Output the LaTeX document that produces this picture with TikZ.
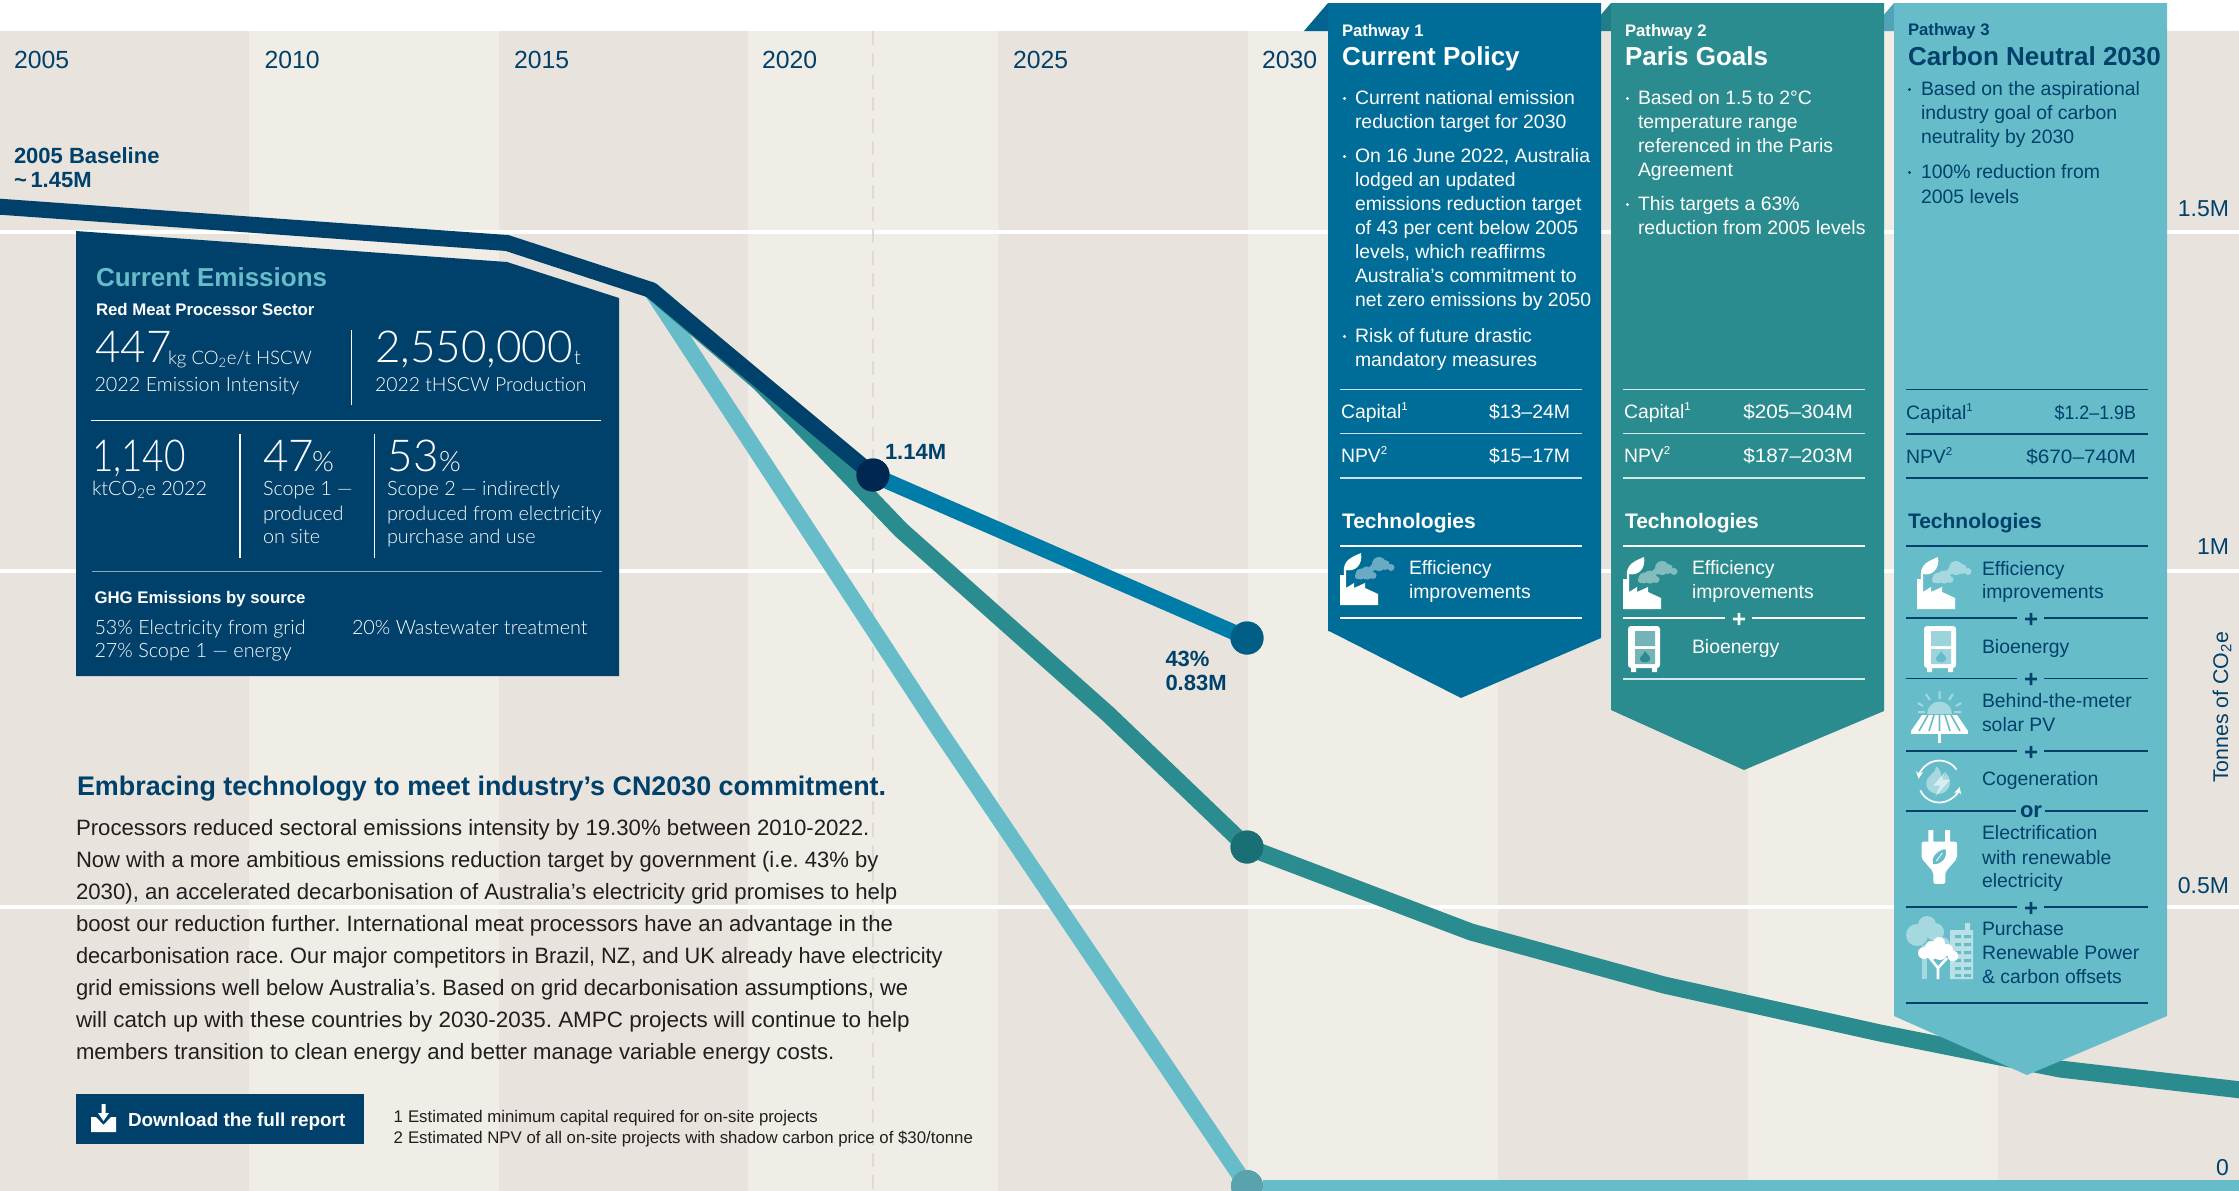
\documentclass[tikz,border=0pt]{standalone}
\usepackage{fontspec}
\setmainfont{Liberation Sans}
\newfontfamily\lightf{Lato Light}
\usetikzlibrary{arrows.meta}
\definecolor{banddark}{HTML}{E9E3DD}
\definecolor{bandlight}{HTML}{F0ECE6}
\definecolor{navy}{HTML}{00416B}
\definecolor{pone}{HTML}{006D98}
\definecolor{lineblue}{HTML}{007CA8}
\definecolor{ptwo}{HTML}{2B8C8F}
\definecolor{pthree}{HTML}{67BCCA}
\definecolor{inkbody}{HTML}{1F1F1F}
\definecolor{dotnowc}{HTML}{00274F}
\definecolor{dotpolc}{HTML}{005E86}
\definecolor{dotparc}{HTML}{1A6F75}
\definecolor{dotzerc}{HTML}{5AA3AE}
\newcommand\FS[1]{\fontsize{#1}{#1}\selectfont}
\newcommand\TX[4][]{\node[txt,#1] at (#2,#3) {#4};}
\newcommand\BL[3]{\fill[#3] (#1+1.5,#2-6.5) circle[radius=1.7pt];}
\newcommand\SUP[1]{\raisebox{.42em}{\FS{11.5}#1}}
\frenchspacing
\tikzset{
  x=1pt,y=-1pt,
  txt/.style={anchor=base west,inner sep=0pt,outer sep=0pt},
  txr/.style={anchor=base east,inner sep=0pt,outer sep=0pt},
  yr/.style={txr,text=navy,font=\FS{23}},
  yl/.style={text=navy,font=\FS{24.8}},
  bold15/.style={font=\bfseries\FS{16.7}},
  title/.style={font=\bfseries\FS{26}},
  body/.style={font=\FS{19.4},yshift=.5pt},
  techhead/.style={font=\bfseries\FS{21}},
  lt20/.style={font=\lightf\FS{19.8}},
  big/.style={font=\lightf\FS{44}},
  para/.style={text=inkbody,font=\FS{22.2}},
  foot/.style={text=inkbody,font=\FS{16.8}},
  trace/.style={line width=17pt,line join=miter},
  rule/.style={line width=1.8pt},
  glass/.style={fill=white,fill opacity=.42,draw=none},
  plusmark/.style={inner sep=0pt,font=\bfseries\FS{24}},
  pics/factory/.style={code={
    \fill[white] (0,22)--(6,22)--(6,35)--(14,30)--(14,35)--(25,30)--(25,35)--(38,41)--(38,52)--(0,52)--cycle;
    \fill[white] (4,21) .. controls (2,7) and (12,4) .. (21,0) .. controls (23,12) and (15,19) .. (6,17) -- (6,22) -- (4,22) -- cycle;
    \fill[glass] (21,21) circle[radius=5.5pt] (27,20) circle[radius=6.5pt] (33,22.5) circle[radius=3.5pt] (18,23) circle[radius=3.2pt]
      (39,11) circle[radius=7pt] (45,12) circle[radius=5pt] (51,14.5) circle[radius=3.5pt] (33,14.5) circle[radius=3.3pt];
  }},
  pics/boiler/.style={code={
    \fill[white,rounded corners=3pt] (0,1) rectangle (32,43);
    \fill[white] (3,42) rectangle (8,47) (24,42) rectangle (29,47);
    \fill[#1,opacity=.65] (7,6) rectangle (27,21) (7,24) rectangle (27,39);
    \fill[#1] (17,26) .. controls (19,30) and (23,31) .. (22,35) .. controls (21,38) and (13,38) .. (12,35) .. controls (11,32) and (15,31) .. (17,26) -- cycle;
  }},
}
\begin{document}
\begin{tikzpicture}
\clip (0,0) rectangle (2239,1191);
\fill[white] (0,0) rectangle (2239,1191);
% bands
\foreach \a/\b/\c in {0/249/banddark,249/499/bandlight,499/748/banddark,748/998/bandlight,998/1248/banddark,1248/1498/bandlight,1498/1748/banddark,1748/1998/bandlight,1998/2239/banddark}
  \fill[\c] (\a,31) rectangle (\b,1191);
% grid
\foreach \g in {232,571,907} \fill[white] (0,\g-2) rectangle (2239,\g+2);
\draw[banddark!96!black,line width=1.3pt,dash pattern=on 14pt off 8pt] (873,31) -- (873,1191);
% year labels
\TX[yl]{14}{68}{2005}
\TX[yl]{264.5}{68}{2010}
\TX[yl]{514}{68}{2015}
\TX[yl]{762}{68}{2020}
\TX[yl]{1013}{68}{2025}
\TX[yl]{1262}{68}{2030}
% value labels
\TX[yr]{2229}{216}{1.5M}
\TX[yr]{2229}{554}{1M}
\TX[yr]{2229}{893}{0.5M}
\TX[yr]{2229}{1175}{0}
\node[anchor=base west,inner sep=0pt,rotate=90,text=navy,font=\FS{21.3}] at (2228,783) {Tonnes of CO\textsubscript{2}e};
% emissions panel
\fill[navy] (76,231)--(507,262)--(619,298)--(619,676)--(76,676)--cycle;
% data traces
\coordinate (base) at (-10,206);
\coordinate (k1) at (507,243);
\coordinate (k2) at (651,290);
\coordinate (cn1) at (939,730);
\node[circle,fill=dotzerc,minimum size=32pt,inner sep=0pt] (dotzero) at (1247,1186) {};
\draw[pthree,trace,line width=16pt] (k2)--(cn1)--(1247,1186);
\node[circle,fill=dotzerc,minimum size=32pt,inner sep=0pt] at (1247,1186) {};
\draw[pthree,line width=12pt] (dotzero.east)--(2250,1186);
\coordinate (t1) at (760,383);
\coordinate (t2) at (901,530);
\coordinate (t3) at (1108,714);
\node[circle,fill=dotparc,minimum size=33pt,inner sep=0pt] (dotparis) at (1247,847) {};
\draw[ptwo,trace] (k2)--(t1)--(t2)--(t3)--(dotparis.center)--(1471,932)--(1664,985)--(1880,1033)--(2060,1069)--(2250,1091);
\node[circle,fill=dotparc,minimum size=33pt,inner sep=0pt] at (1247,847) {};
\node[circle,fill=dotpolc,minimum size=33pt,inner sep=0pt] (dotpolicy) at (1247,638) {};
\node[circle,fill=dotnowc,minimum size=33pt,inner sep=0pt] (dotnow) at (873,475) {};
\draw[lineblue,trace,line width=15.5pt] (dotnow.center)--(dotpolicy.center);
\draw[navy,trace,line width=16pt] (base)--(k1)--(k2)--(dotnow.center);
\node[circle,fill=dotpolc,minimum size=33pt,inner sep=0pt] at (1247,638) {};
\node[circle,fill=dotnowc,minimum size=33pt,inner sep=0pt] at (873,475) {};
% chart labels
\begin{scope}[every node/.append style={text=navy,font=\bfseries\FS{22}}]
\TX{14}{163}{2005 Baseline}
\TX{14}{187.5}{\textasciitilde\,1.45M}
\TX{885}{459}{1.14M}
\TX{1165.5}{666}{43\%}
\TX{1165.5}{690}{0.83M}
\end{scope}
% panel content
\TX[text=pthree,font=\bfseries\FS{26}]{96}{286}{Current Emissions}
\TX[text=white,font=\bfseries\FS{16.8}]{96}{315}{Red Meat Processor Sector}
\begin{scope}[every node/.append style={text=white}]
\TX[big]{95}{362.5}{447}
\TX[font=\lightf\FS{18.7}]{168}{364}{kg CO\textsubscript{2}e/t HSCW}
\TX[lt20]{94.5}{391}{2022 Emission Intensity}
\TX[big]{375}{362.5}{2,550,000}
\TX[lt20]{574}{364}{t}
\TX[font=\lightf\FS{19.4}]{375}{391}{2022 tHSCW Production}
\TX[big]{92}{471}{\scalebox{.84}[1]{1,140}}
\TX[lt20]{92}{495.5}{ktCO\textsubscript{2}e 2022}
\TX[big]{263}{471}{47}
\TX[font=\lightf\FS{28}]{312}{471}{\%}
\TX[lt20]{263}{495.5}{Scope 1 —}
\TX[lt20]{263}{520}{produced}
\TX[lt20]{263}{543.5}{on site}
\TX[big]{387.5}{471}{53}
\TX[font=\lightf\FS{28}]{439}{471}{\%}
\TX[lt20]{387}{495.5}{Scope 2 — indirectly}
\TX[lt20]{387}{520}{produced from electricity}
\TX[lt20]{387}{543.5}{purchase and use}
\TX[font=\bfseries\FS{16.8}]{94.5}{603}{GHG Emissions by source}
\TX[lt20]{94.5}{634}{53\% Electricity from grid}
\TX[lt20]{94.5}{657.6}{27\% Scope 1 — energy}
\TX[lt20]{352}{634}{20\% Wastewater treatment}
\end{scope}
\draw[white,line width=1.3pt] (351.6,330)--(351.6,405) (240,434)--(240,558) (374.6,434)--(374.6,558) (91,420.5)--(601,420.5);
\draw[white!55!navy,line width=1.6pt] (92,571.5)--(602,571.5);
% commentary
\TX[text=navy,font=\bfseries\FS{26.9}]{77}{795}{Embracing technology to meet industry’s CN2030 commitment.}
\TX[para]{76}{835}{Processors reduced sectoral emissions intensity by 19.30\% between 2010-2022.}
\TX[para]{76}{867}{\scalebox{.993}[1]{Now with a more ambitious emissions reduction target by government (i.e. 43\% by}}
\TX[para]{76}{899}{2030), an accelerated decarbonisation of Australia’s electricity grid promises to help}
\TX[para]{76}{931}{\scalebox{.997}[1]{boost our reduction further. International meat processors have an advantage in the}}
\TX[para]{76}{963}{\scalebox{.981}[1]{decarbonisation race. Our major competitors in Brazil, NZ, and UK already have electricity}}
\TX[para]{76}{995}{\scalebox{.988}[1]{grid emissions well below Australia’s. Based on grid decarbonisation assumptions, we}}
\TX[para]{76}{1027}{\scalebox{1.01}[1]{will catch up with these countries by 2030-2035. AMPC projects will continue to help}}
\TX[para]{76}{1059}{\scalebox{.996}[1]{members transition to clean energy and better manage variable energy costs.}}
% button
\fill[navy] (76,1094) rectangle (364,1144);
\fill[white] (91,1117)--(96,1117)--(103.5,1125)--(111,1117)--(116,1117)--(116,1132)--(91,1132)--cycle;
\fill[white] (101.5,1104)--(105.5,1104)--(105.5,1113)--(109,1113)--(103.5,1121)--(98,1113)--(101.5,1113)--cycle;
\TX[text=white,font=\bfseries\FS{18.9}]{128}{1126}{Download the full report}
\TX[foot]{393.5}{1122}{1}
\TX[foot]{408}{1122}{Estimated minimum capital required for on-site projects}
\TX[foot]{393.5}{1143}{2}
\TX[foot]{408}{1143}{Estimated NPV of all on-site projects with shadow carbon price of \$30/tonne}
% folds and pathway shapes
\fill[pthree!80!navy] (1870,31)--(1894,3)--(1894,31)--cycle;
\fill[pthree] (1894,3)--(2167,3)--(2167,1016)--(2027,1075)--(1894,1016)--cycle;
\fill[ptwo!80!navy] (1587,31)--(1611,3)--(1611,31)--cycle;
\fill[ptwo] (1611,3)--(1884,3)--(1884,711)--(1744,770)--(1611,710)--cycle;
\fill[pone!80!navy] (1304,31)--(1328,3)--(1328,31)--cycle;
\fill[pone] (1328,3)--(1601,3)--(1601,638)--(1461,698)--(1329,631)--(1328,631)--cycle;
% pathway 1
\begin{scope}[every node/.append style={text=white}]
\TX[bold15]{1342}{36}{Pathway 1}
\TX[title]{1342}{65.5}{Current Policy}
\BL{1343}{105}{white}
\TX[body]{1355}{105}{Current national emission}
\TX[body]{1355}{129}{reduction target for 2030}
\BL{1343}{163}{white}
\TX[body]{1355}{163}{On 16 June 2022, Australia}
\TX[body]{1355}{187}{lodged an updated}
\TX[body]{1355}{211}{emissions reduction target}
\TX[body]{1355}{235}{of 43 per cent below 2005}
\TX[body]{1355}{259}{levels, which reaffirms}
\TX[body]{1355}{283}{Australia’s commitment to}
\TX[body]{1355}{307}{net zero emissions by 2050}
\BL{1343}{343}{white}
\TX[body]{1355}{343}{Risk of future drastic}
\TX[body]{1355}{367}{mandatory measures}
\TX[body]{1341}{419}{Capital\SUP{1}}
\node[txr,body] at (1570,419) {\$13–24M};
\TX[body]{1341}{463}{NPV\SUP{2}}
\node[txr,body] at (1570,463) {\$15–17M};
\TX[techhead]{1342}{528}{Technologies}
\TX[body]{1409}{575}{Efficiency}
\TX[body]{1409}{599}{improvements}
\end{scope}
\draw[white!80!pone,rule] (1340,389.5)--(1582,389.5) (1340,433.5)--(1582,433.5) (1340,478)--(1582,478);
\draw[white,rule] (1340,546)--(1582,546) (1340,618)--(1582,618);
\pic at (1340,553) {factory};
% pathway 2
\begin{scope}[every node/.append style={text=white}]
\TX[bold15]{1625}{36}{Pathway 2}
\TX[title]{1625}{65.5}{Paris Goals}
\BL{1626}{105}{white}
\TX[body]{1638}{105}{Based on 1.5 to 2°C}
\TX[body]{1638}{129}{temperature range}
\TX[body]{1638}{153}{referenced in the Paris}
\TX[body]{1638}{177}{Agreement}
\BL{1626}{211}{white}
\TX[body]{1638}{211}{This targets a 63\%}
\TX[body]{1638}{235}{reduction from 2005 levels}
\TX[body]{1624}{419}{Capital\SUP{1}}
\node[txr,body] at (1853,419) {\scalebox{1.07}[1]{\$205–304M}};
\TX[body]{1624}{463}{NPV\SUP{2}}
\node[txr,body] at (1853,463) {\scalebox{1.07}[1]{\$187–203M}};
\TX[techhead]{1625}{528}{Technologies}
\TX[body]{1692}{575}{Efficiency}
\TX[body]{1692}{599}{improvements}
\TX[body]{1692}{654}{Bioenergy}
\node[plusmark] (plustwo) at (1739,620) {+};
\end{scope}
\draw[white!80!ptwo,rule] (1623,389.5)--(1865,389.5) (1623,433.5)--(1865,433.5) (1623,478)--(1865,478) (1623,679)--(1865,679);
\draw[white,rule] (1623,546)--(1865,546) (1623,618)--(1725,618) (1752,618)--(1865,618);
\pic at (1623,557) {factory};
\pic at (1628,625) {boiler=ptwo};
% pathway 3
\begin{scope}[every node/.append style={text=navy}]
\TX[bold15]{1908}{35}{Pathway 3}
\TX[title]{1908}{65}{Carbon Neutral 2030}
\BL{1908}{96}{navy}
\TX[body]{1921}{96}{Based on the aspirational}
\TX[body]{1921}{120}{industry goal of carbon}
\TX[body]{1921}{143.5}{neutrality by 2030}
\BL{1908}{179}{navy}
\TX[body]{1921}{179}{100\% reduction from}
\TX[body]{1921}{204}{2005 levels}
\TX[body]{1906}{420}{Capital\SUP{1}}
\node[txr,body] at (2136,420) {\scalebox{.92}[1]{\$1.2–1.9B}};
\TX[body]{1906}{464}{NPV\SUP{2}}
\node[txr,body] at (2136,464) {\scalebox{1.07}[1]{\$670–740M}};
\TX[techhead]{1908}{528}{Technologies}
\TX[body]{1982}{576}{Efficiency}
\TX[body]{1982}{599}{improvements}
\TX[body]{1982}{654}{Bioenergy}
\TX[body]{1982}{708}{Behind-the-meter}
\TX[body]{1982}{732}{solar PV}
\TX[body]{1982}{786}{Cogeneration}
\TX[body]{1982}{840}{Electrification}
\TX[body]{1982}{864.5}{with renewable}
\TX[body]{1982}{888}{electricity}
\TX[body]{1982}{936}{Purchase}
\TX[body]{1982}{960}{Renewable Power}
\TX[body]{1982}{984}{\& carbon offsets}
\node[plusmark] at (2031,620) {+};
\node[plusmark] at (2031,680.6) {+};
\node[plusmark] at (2031,753) {+};
\node[plusmark] at (2031,909) {+};
\node[inner sep=0pt,anchor=base,font=\bfseries\FS{22}] at (2031,817) {or};
\end{scope}
\draw[navy,rule,line width=1.6pt]
  (1906,389.5)--(2148,389.5) (1906,434)--(2148,434) (1906,478)--(2148,478) (1906,546)--(2148,546)
  (1906,618)--(2017,618) (2044,618)--(2148,618)
  (1906,678.6)--(2017,678.6) (2044,678.6)--(2148,678.6)
  (1906,751)--(2017,751) (2044,751)--(2148,751)
  (1906,811)--(2016,811) (2045,811)--(2148,811)
  (1906,907)--(2017,907) (2044,907)--(2148,907)
  (1906,1003)--(2148,1003);
\pic at (1917,557) {factory};
\pic at (1924,625) {boiler=pthree};
% solar icon
\fill[glass] (1927,714) arc[start angle=180,end angle=0,radius=12.5pt] -- cycle;
\draw[white,opacity=.42,line width=2pt] (1939.5,691)--(1939.5,699) (1926,694)--(1930,700) (1953,694)--(1949,700) (1918,703)--(1923,706) (1961,703)--(1956,706) (1918,712)--(1925,712) (1954,712)--(1961,712);
\fill[white] (1922,715)--(1957,715)--(1968,731)--(1911,731)--cycle;
\fill[white] (1911,731) rectangle (1968,733.5);
\fill[white] (1938,733) rectangle (1941,743);
\draw[pthree,line width=1.6pt] (1928,715)--(1919,731) (1934,715)--(1929,731) (1939.5,715)--(1939.5,731) (1945,715)--(1950,731) (1951,715)--(1960,731);
% cogeneration icon
\begin{scope}[shift={(1939.3,781.5)}]
\draw[white,line width=1.7pt,-{Stealth[length=7pt,width=7pt]}] (17.2,-12) arc[start angle=35,end angle=172,radius=21pt];
\draw[white,line width=1.7pt,-{Stealth[length=7pt,width=7pt]}] (-19,8.9) arc[start angle=205,end angle=345,radius=21pt];
\fill[glass] (-3,-15) .. controls (-3,-8) and (-14,-6) .. (-13,3) .. controls (-12,12) and (0,15) .. (6,10) .. controls (14,4) and (10,-6) .. (6,-9) .. controls (6,-5) and (3,-3) .. (2,-5) .. controls (2,-9) and (0,-13) .. (-3,-15) -- cycle;
\fill[white,opacity=.55] (6,-10)--(-6,4)--(1,4)--(-4,15)--(11,-2)--(3,-2)--cycle;
\end{scope}
% plug icon
\begin{scope}[shift={(1939.3,830)}]
\fill[white] (-11,0) rectangle (-6,12) (5.7,0) rectangle (10.7,12);
\fill[white,rounded corners=2pt] (-17.7,11.7)--(17.7,11.7)--(17.7,28.4)--(6,42)--(6,53.8)--(-6,53.8)--(-6,42)--(-17.7,28.4)--cycle;
\fill[pthree] (-6,34) .. controls (-9,26) and (0,20) .. (6,19) .. controls (9,28) and (1,35) .. (-6,34) -- cycle;
\draw[white,line width=.8pt] (-3,31)--(3,23);
\end{scope}
% trees icon
\fill[glass] (1917,935) circle[radius=11pt] (1927,925) circle[radius=9pt] (1935,932) circle[radius=9pt] (1942,945) circle[radius=8pt];
\fill[white,opacity=.42] (1922,945) rectangle (1927,979);
\fill[white,opacity=.55] (1950,930) rectangle (1973,979) (1965,923) rectangle (1970,930);
\foreach \wy in {937,945,953,961,969,976} \fill[pthree] (1955,\wy-2) rectangle (1961,\wy+1) (1964,\wy-2) rectangle (1971,\wy+1);
\fill[white] (1924,953) circle[radius=6pt] (1931,947) circle[radius=6pt] (1939,943) circle[radius=6pt] (1947,950) circle[radius=6pt] (1953,956) circle[radius=5.5pt] (1940,953) circle[radius=7pt] (1932,955) circle[radius=5pt];
\draw[white,line width=2.6pt] (1938,979)--(1938,968)--(1930,958) (1938,968)--(1947,958);
\end{tikzpicture}
\end{document}
